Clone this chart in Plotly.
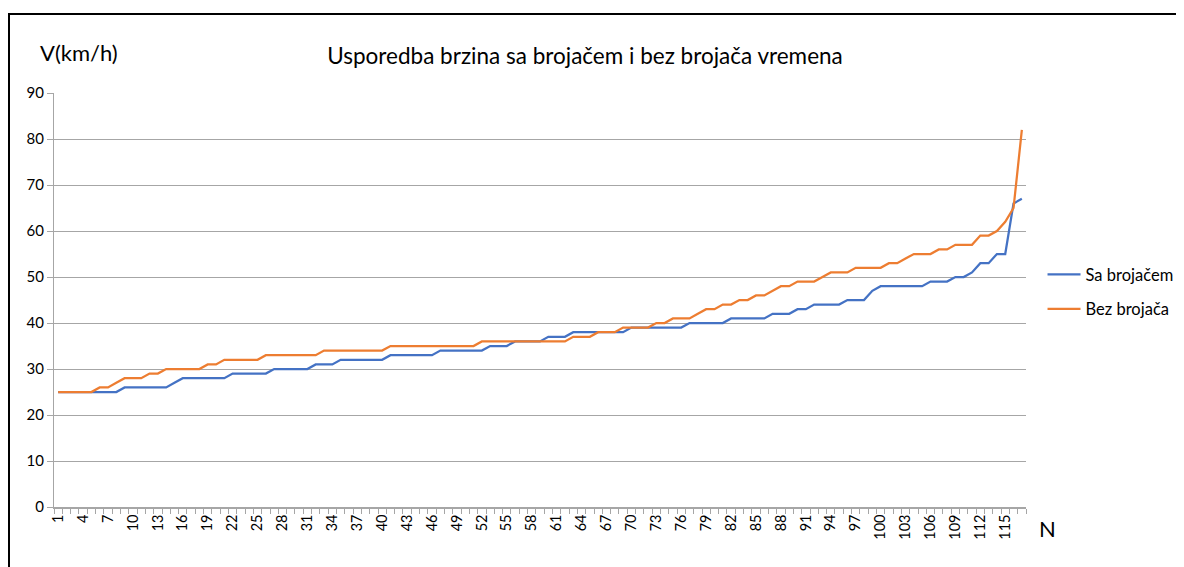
import plotly.graph_objects as go

N = list(range(1, 118))

sa_brojacem = (
    [25] * 8 + [26] * 6 + [27] + [28] * 6 + [29] * 5 + [30] * 5 + [31] * 3 +
    [32] * 6 + [33] * 6 + [34] * 6 + [35] * 3 + [36] * 4 + [37] * 3 +
    [38] * 7 + [39] * 7 + [40] * 5 + [41] * 5 + [42] * 3 + [43] * 2 +
    [44] * 4 + [45] * 3 + [47] + [48] * 6 + [49] * 3 + [50] * 2 + [51] +
    [53] * 2 + [55] * 2 + [66, 67]
)

bez_brojaca = (
    [25] * 5 + [26] * 2 + [27] + [28] * 3 + [29] * 2 + [30] * 5 + [31] * 2 +
    [32] * 5 + [33] * 7 + [34] * 8 + [35] * 11 + [36] * 11 + [37] * 3 +
    [38] * 3 + [39] * 4 + [40] * 2 + [41] * 3 + [42] + [43] * 2 + [44] * 2 +
    [45] * 2 + [46] * 2 + [47] + [48] * 2 + [49] * 3 + [50] + [51] * 3 +
    [52] * 4 + [53] * 2 + [54] + [55] * 3 + [56] * 2 + [57] * 3 + [59] * 2 +
    [60, 62, 65, 82]
)

x_tick_vals = list(range(1, 118, 3))
x_tick_text = [str(v) for v in x_tick_vals]
y_tick_vals = list(range(0, 100, 10))

FONT = "Lato"
GRID = "#a6a6a6"

# page body has an 8px margin; figure coordinates are offset by it
W, H = 1176, 559
L, R, T, B = 46, 158, 85, 60
PW, PH = W - L - R, H - T - B

fig = go.Figure()
fig.add_trace(go.Scatter(x=N, y=sa_brojacem, mode="lines", name="Sa brojačem",
                         legendgroup="a",
                         line=dict(color="#4472C4", width=2.25)))
fig.add_trace(go.Scatter(x=N, y=bez_brojaca, mode="lines", name="Bez brojača",
                         legendgroup="b",
                         line=dict(color="#ED7D31", width=2.25)))

fig.update_layout(
    width=W, height=H,
    margin=dict(l=L, r=R, t=T, b=B, autoexpand=False),
    paper_bgcolor="white", plot_bgcolor="white",
    font=dict(family=FONT, color="#000000"),
    title=dict(text="Usporedba brzina sa brojačem i bez brojača vremena",
               x=577 / W, xanchor="center", y=1 - 48 / H, yanchor="middle",
               font=dict(family=FONT, size=22.5, color="#000000")),
    legend=dict(x=1.017, xanchor="left", y=0.52, yanchor="middle",
                font=dict(family=FONT, size=16.5), bgcolor="rgba(0,0,0,0)",
                tracegroupgap=10, itemwidth=33),
    showlegend=True,
)

fig.update_xaxes(
    range=[0.5, 117.5], tickmode="array", tickvals=x_tick_vals,
    ticktext=x_tick_text, tickangle=-90, ticks="", showgrid=False,
    showline=True, linecolor=GRID, linewidth=1.5,
    tickfont=dict(family=FONT, size=14.5, color="#000000"),
    minor=dict(tickmode="linear", tick0=0.5, dtick=1, ticks="outside",
               ticklen=5, tickcolor=GRID, showgrid=False),
    zeroline=False,
)
fig.update_yaxes(
    range=[0, 90], tickmode="array", tickvals=y_tick_vals,
    showgrid=True, gridcolor=GRID, gridwidth=1.2,
    showline=True, linecolor=GRID, linewidth=1.2,
    ticks="outside", ticklen=6, tickcolor=GRID,
    tickfont=dict(family=FONT, size=15, color="#000000"),
    zeroline=False,
)

fig.add_annotation(text="V(km/h)", xref="paper", yref="paper",
                   x=-16 / PW, y=(PH + 41) / PH, xanchor="left", yanchor="middle",
                   showarrow=False, font=dict(family=FONT, size=22, color="#000000"))
fig.add_annotation(text="N", xref="paper", yref="paper",
                   x=(PW + 21) / PW, y=-21 / PH, xanchor="center", yanchor="middle",
                   showarrow=False, font=dict(family=FONT, size=22, color="#000000"))

# outer frame (page coords: left 8, top 14, right 1180)
fig.add_shape(type="rect", xref="paper", yref="paper",
              x0=(0 - L) / PW + 1 / PW, x1=(1172 - L) / PW,
              y0=-(B + 40) / PH, y1=(PH + T - 6) / PH,
              line=dict(color="#000000", width=2), layer="below")

fig.write_html("out.html")
